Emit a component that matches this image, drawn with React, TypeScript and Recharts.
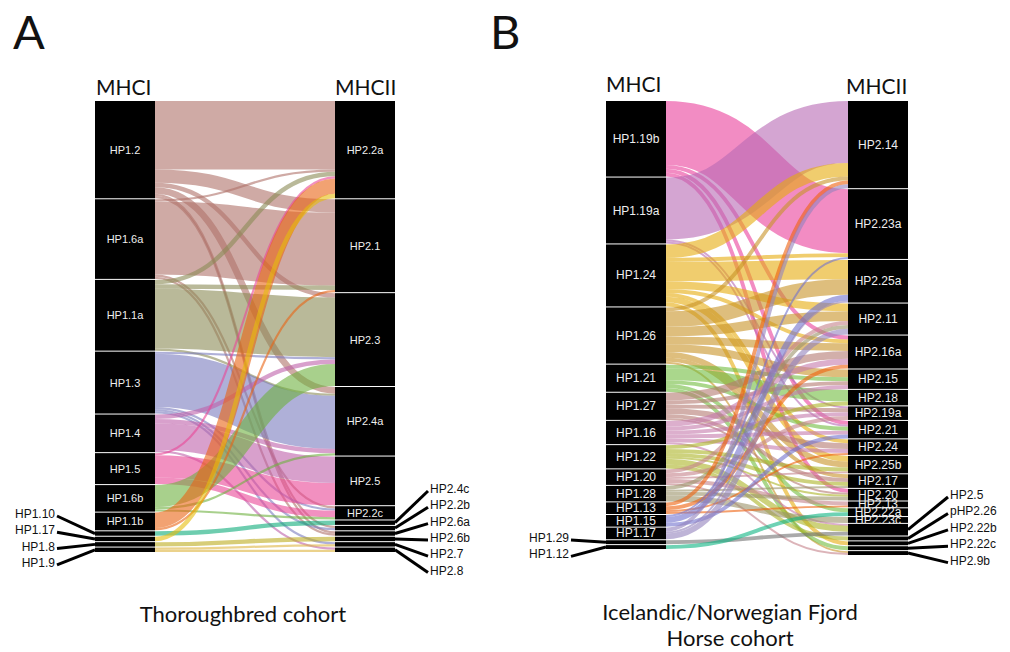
import React from 'react';
import { Sankey } from 'recharts';

// ---- panel A : Thoroughbred cohort ----
const mhcIA = ['HP1.2', 'HP1.6a', 'HP1.1a', 'HP1.3', 'HP1.4', 'HP1.5', 'HP1.6b', 'HP1.1b', 'HP1.10', 'HP1.17', 'HP1.8', 'HP1.9'];
const mhcIIA = ['HP2.2a', 'HP2.1', 'HP2.3', 'HP2.4a', 'HP2.5', 'HP2.2c', 'HP2.4c', 'HP2.2b', 'HP2.6a', 'HP2.6b', 'HP2.7', 'HP2.8'];
const outsideIA = ['HP1.10', 'HP1.17', 'HP1.8', 'HP1.9'];
const outsideIIA = ['HP2.4c', 'HP2.2b', 'HP2.6a', 'HP2.6b', 'HP2.7', 'HP2.8'];

const linksA: [string, string, number][] = [
  ['HP1.2', 'HP2.2a', 15.5], ['HP1.2', 'HP2.1', 3], ['HP1.2', 'HP2.3', 1], ['HP1.2', 'HP2.4a', 1.5], ['HP1.2', 'HP2.6a', 0.5], ['HP1.2', 'HP2.2b', 0.5],
  ['HP1.6a', 'HP2.2a', 0.5], ['HP1.6a', 'HP2.1', 16.5], ['HP1.6a', 'HP2.2c', 0.5], ['HP1.6a', 'HP2.6a', 0.5],
  ['HP1.1a', 'HP2.2a', 1], ['HP1.1a', 'HP2.1', 1], ['HP1.1a', 'HP2.3', 13.5], ['HP1.1a', 'HP2.4a', 0.5],
  ['HP1.3', 'HP2.3', 0.5], ['HP1.3', 'HP2.4a', 12], ['HP1.3', 'HP2.2c', 0.5], ['HP1.3', 'HP2.2b', 0.5], ['HP1.3', 'HP2.7', 0.5],
  ['HP1.4', 'HP2.3', 1], ['HP1.4', 'HP2.4a', 1], ['HP1.4', 'HP2.5', 6], ['HP1.4', 'HP2.8', 0.5],
  ['HP1.5', 'HP2.2a', 0.5], ['HP1.5', 'HP2.5', 5], ['HP1.5', 'HP2.2c', 1.5],
  ['HP1.6b', 'HP2.3', 5], ['HP1.6b', 'HP2.4a', 0.5], ['HP1.6b', 'HP2.2c', 0.5],
  ['HP1.1b', 'HP2.2a', 3.5], ['HP1.1b', 'HP2.1', 0.5],
  ['HP1.10', 'HP2.4c', 1],
  ['HP1.17', 'HP2.2a', 1],
  ['HP1.8', 'HP2.6b', 1],
  ['HP1.9', 'HP2.7', 0.5], ['HP1.9', 'HP2.8', 0.5],
];

const coloursA: Record<string, string> = {
  'HP1.2': '#af7169', 'HP1.6a': '#af7169', 'HP1.1a': '#8a8a55', 'HP1.3': '#7a7bbe',
  'HP1.4': '#be61aa', 'HP1.5': '#e94696', 'HP1.6b': '#6eb13f', 'HP1.1b': '#e96414',
  'HP1.10': '#0dac7a', 'HP1.17': '#e6bc0d', 'HP1.8': '#bcac1e', 'HP1.9': '#deb43f',
};

// ---- panel B : Icelandic / Norwegian Fjord horse cohort ----
const mhcIB = ['HP1.19b', 'HP1.19a', 'HP1.24', 'HP1.26', 'HP1.21', 'HP1.27', 'HP1.16', 'HP1.22', 'HP1.20', 'HP1.28', 'HP1.13', 'HP1.15', 'HP1.17', 'HP1.29', 'HP1.12'];
const mhcIIB = ['HP2.14', 'HP2.23a', 'HP2.25a', 'HP2.11', 'HP2.16a', 'HP2.15', 'HP2.18', 'HP2.19a', 'HP2.21', 'HP2.24', 'HP2.25b', 'HP2.17', 'HP2.20', 'HP2.13', 'HP2.22a', 'HP2.23c', 'HP2.5', 'pHP2.26', 'HP2.22b', 'HP2.22c', 'HP2.9b'];
const outsideIB = ['HP1.29', 'HP1.12'];
const outsideIIB = ['HP2.5', 'pHP2.26', 'HP2.22b', 'HP2.22c', 'HP2.9b'];

const linksB: [string, string, number][] = [
  ['HP1.19b', 'HP2.23a', 16.5], ['HP1.19b', 'HP2.16a', 1], ['HP1.19b', 'HP2.21', 1], ['HP1.19b', 'HP2.20', 1],
  ['HP1.19a', 'HP2.14', 16], ['HP1.19a', 'HP2.19a', 0.5], ['HP1.19a', 'HP2.21', 0.5],
  ['HP1.24', 'HP2.14', 3.5], ['HP1.24', 'HP2.23a', 1], ['HP1.24', 'HP2.25a', 5], ['HP1.24', 'HP2.11', 2], ['HP1.24', 'HP2.16a', 1], ['HP1.24', 'HP2.24', 1], ['HP1.24', 'HP2.25b', 1.5], ['HP1.24', 'HP2.22b', 1],
  ['HP1.26', 'HP2.14', 1], ['HP1.26', 'HP2.25a', 4], ['HP1.26', 'HP2.11', 2.5], ['HP1.26', 'HP2.16a', 2], ['HP1.26', 'HP2.15', 2], ['HP1.26', 'HP2.25b', 1.5], ['HP1.26', 'HP2.17', 1], ['HP1.26', 'HP2.9b', 0.5],
  ['HP1.21', 'HP2.15', 1], ['HP1.21', 'HP2.18', 3], ['HP1.21', 'HP2.21', 1], ['HP1.21', 'HP2.22a', 1], ['HP1.21', 'HP2.22c', 1],
  ['HP1.27', 'HP2.16a', 2], ['HP1.27', 'HP2.15', 1], ['HP1.27', 'HP2.19a', 1], ['HP1.27', 'HP2.24', 1.5], ['HP1.27', 'HP2.17', 1], ['HP1.27', 'HP2.20', 0.5],
  ['HP1.16', 'HP2.16a', 1.5], ['HP1.16', 'HP2.15', 1], ['HP1.16', 'HP2.19a', 1], ['HP1.16', 'HP2.21', 1], ['HP1.16', 'HP2.24', 1], ['HP1.16', 'HP2.5', 0.5],
  ['HP1.22', 'HP2.18', 1], ['HP1.22', 'HP2.25b', 1], ['HP1.22', 'HP2.17', 1], ['HP1.22', 'HP2.20', 0.5], ['HP1.22', 'HP2.5', 1.5], ['HP1.22', 'pHP2.26', 1],
  ['HP1.20', 'HP2.11', 1], ['HP1.20', 'HP2.19a', 1], ['HP1.20', 'HP2.25b', 0.5], ['HP1.20', 'HP2.13', 1], ['HP1.20', 'HP2.9b', 0.5],
  ['HP1.28', 'HP2.11', 1], ['HP1.28', 'HP2.17', 0.5], ['HP1.28', 'HP2.20', 1], ['HP1.28', 'HP2.23c', 1.5],
  ['HP1.13', 'HP2.14', 1], ['HP1.13', 'HP2.16a', 1], ['HP1.13', 'HP2.24', 0.5], ['HP1.13', 'HP2.13', 0.5],
  ['HP1.15', 'HP2.23a', 0.5], ['HP1.15', 'HP2.25a', 1.5], ['HP1.15', 'HP2.21', 1],
  ['HP1.17', 'HP2.14', 1], ['HP1.17', 'HP2.25a', 0.5], ['HP1.17', 'HP2.11', 1.5],
  ['HP1.29', 'HP2.5', 1],
  ['HP1.12', 'HP2.22a', 1],
];

const coloursB: Record<string, string> = {
  'HP1.19b': '#e93f9b', 'HP1.19a': '#b769b4', 'HP1.24': '#e6ac0d', 'HP1.26': '#c89326',
  'HP1.21': '#71bc3f', 'HP1.27': '#b47a71', 'HP1.16': '#c57aac', 'HP1.22': '#acb426',
  'HP1.20': '#c5828a', 'HP1.28': '#9b9369', 'HP1.13': '#ee610d', 'HP1.15': '#7171cd',
  'HP1.17': '#9382bc', 'HP1.29': '#717171', 'HP1.12': '#0db482',
};

const nodeFont = 'Liberation Sans, Arial, sans-serif';
const textFont = 'Lato, "Open Sans", sans-serif';

function buildData(left: string[], right: string[], links: [string, string, number][]) {
  const names = [...left, ...right];
  return {
    nodes: names.map((name) => ({ name })),
    links: links.map(([s, t, v]) => ({ source: names.indexOf(s), target: names.indexOf(t), value: v })),
  };
}

type LabelCfg = {
  left: string[];
  right: string[];
  leftY: number;
  rightY: number;
  step: number;
  leftLen: number;
  rightLen: number;
  fontSize: number;
};

function makeNode(cfg: LabelCfg) {
  return (p: any) => {
    const { x, y, width, height, payload } = p;
    const name: string = payload.name;
    const cy = y + height / 2;
    const li = cfg.left.indexOf(name);
    const ri = cfg.right.indexOf(name);
    let extra = null;
    if (li >= 0) {
      const ly = cfg.leftY + li * cfg.step;
      extra = (
        <g>
          <line x1={x - cfg.leftLen} y1={ly + 2} x2={x} y2={cy} stroke="#000" strokeWidth={3} />
          <text x={x - cfg.leftLen - 2} y={ly} textAnchor="end" dominantBaseline="central" fontSize={12} fontFamily={nodeFont} fill="#111">
            {name}
          </text>
        </g>
      );
    } else if (ri >= 0) {
      const ly = cfg.rightY + ri * cfg.step;
      extra = (
        <g>
          <line x1={x + width} y1={cy} x2={x + width + cfg.rightLen} y2={ly + 2} stroke="#000" strokeWidth={3} />
          <text x={x + width + cfg.rightLen + 2} y={ly} textAnchor="start" dominantBaseline="central" fontSize={12} fontFamily={nodeFont} fill="#111">
            {name}
          </text>
        </g>
      );
    }
    return (
      <g>
        <rect x={x} y={y} width={width} height={height} fill="#000" />
        {extra === null && (
          <text x={x + width / 2} y={cy} textAnchor="middle" dominantBaseline="central" fontSize={cfg.fontSize} fontFamily={nodeFont} fill="#eee">
            {name}
          </text>
        )}
        {extra}
      </g>
    );
  };
}

function makeLink(colours: Record<string, string>, names: string[]) {
  return (p: any) => {
    const { sourceX, targetX, sourceY, targetY, sourceControlX, targetControlX, linkWidth, payload } = p;
    const src = typeof payload.source === 'object' ? payload.source.name : names[payload.source];
    return (
      <path
        d={`M${sourceX},${sourceY} C${sourceControlX},${sourceY} ${targetControlX},${targetY} ${targetX},${targetY}`}
        fill="none"
        stroke={colours[src] || '#999'}
        strokeWidth={Math.max(linkWidth, 1.2)}
        strokeOpacity={0.6}
      />
    );
  };
}

const dataA = buildData(mhcIA, mhcIIA, linksA);
const dataB = buildData(mhcIB, mhcIIB, linksB);

const nodeA = makeNode({ left: outsideIA, right: outsideIIA, leftY: 514, rightY: 489, step: 16.3, leftLen: 38, rightLen: 33, fontSize: 11 });
const nodeB = makeNode({ left: outsideIB, right: outsideIIB, leftY: 538, rightY: 495, step: 16.4, leftLen: 35, rightLen: 40, fontSize: 12 });
const linkA = makeLink(coloursA, [...mhcIA, ...mhcIIA]);
const linkB = makeLink(coloursB, [...mhcIB, ...mhcIIB]);

const abs = (left: number, top: number, size: number, extra: React.CSSProperties = {}): React.CSSProperties => ({
  position: 'absolute',
  left,
  top,
  fontSize: size,
  fontFamily: textFont,
  color: '#111',
  lineHeight: 1,
  whiteSpace: 'nowrap',
  ...extra,
});

export default function App() {
  return (
    <div style={{ position: 'absolute', left: 0, top: 0, width: 1010, height: 652, background: '#fff', overflow: 'hidden' }}>
      <div style={{ position: 'absolute', left: 0, top: 0 }}>
        <Sankey
          width={500}
          height={652}
          data={dataA}
          node={nodeA}
          link={linkA}
          nodeWidth={60}
          nodePadding={1}
          iterations={0}
          linkCurvature={0.5}
          margin={{ top: 101, left: 95, right: 105, bottom: 100 }}
        />
      </div>
      <div style={{ position: 'absolute', left: 500, top: 0 }}>
        <Sankey
          width={510}
          height={652}
          data={dataB}
          node={nodeB}
          link={linkB}
          nodeWidth={60}
          nodePadding={1}
          iterations={0}
          linkCurvature={0.5}
          margin={{ top: 101, left: 106, right: 102, bottom: 97 }}
        />
      </div>

      <div style={abs(13, 8, 47)}>A</div>
      <div style={abs(490, 8, 47)}>B</div>

      <div style={abs(96, 76, 21)}>MHCI</div>
      <div style={abs(335, 76, 21)}>MHCII</div>
      <div style={abs(606, 73, 21)}>MHCI</div>
      <div style={abs(846, 75, 21)}>MHCII</div>

      <div style={abs(0, 603, 22, { width: 486, textAlign: 'center' })}>Thoroughbred cohort</div>
      <div style={abs(480, 599, 22, { width: 500, textAlign: 'center', lineHeight: '26px' })}>
        Icelandic/Norwegian Fjord
        <br />
        Horse cohort
      </div>
    </div>
  );
}
